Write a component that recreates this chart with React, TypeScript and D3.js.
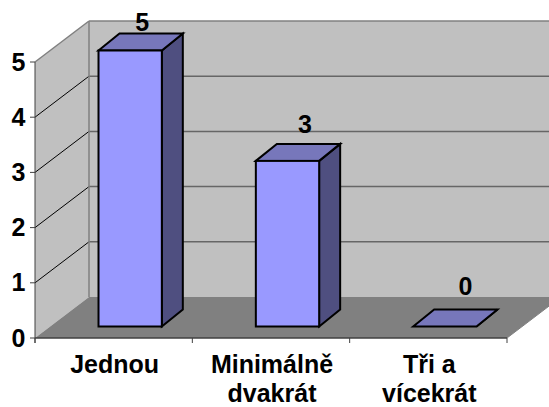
import React from "react";
import * as d3 from "d3";

const categories = [["Jednou"], ["Minimálně", "dvakrát"], ["Tři a", "vícekrát"]];
const values = [5, 3, 0];
const ticks = [0, 1, 2, 3, 4, 5];

const W = 549, H = 407;
const x0 = 35, x1 = 507, yBase = 338, yTop = 62;
const depthX = 54, depthY = -41;
const y = d3.scaleLinear().domain([0, 5]).range([yBase, yTop]);
const x = d3.scaleBand<number>().domain(d3.range(values.length)).range([x0, x1]).paddingInner(47 * 2 / 157.3).paddingOuter(47 / 157.3);
const FONT = "'Liberation Sans', Arial, sans-serif";
const pts = (a: number[][]) => a.map(p => p.join(",")).join(" ");

export default function App() {
  const barDx = 16.5, barDy = -11.5, bDx = 21, bDy = -17;
  const labelOffsets = [[12, -3], [17.5, -10.5], [20.5, -14.5]];
  return (
    <svg width={W} height={H} style={{ position: "absolute", left: 0, top: 0, background: "#fff" }} fontFamily={FONT} fontWeight="bold" fill="#000">
      <polygon points={pts([[x0, yBase], [x0 + depthX, yBase + depthY], [x0 + depthX, yTop + depthY], [x0, yTop]])} fill="#c0c0c0" />
      <rect x={x0 + depthX} y={yTop + depthY} width={W - x0 - depthX} height={yBase - yTop} fill="#c0c0c0" />
      <polygon points={pts([[x0, yBase], [x0 + depthX, yBase + depthY], [x1 + depthX, yBase + depthY], [x1, yBase]])} fill="#808080" />
      {ticks.slice(1, 5).map(t => (
        <g key={t}>
          <line x1={x0} y1={y(t)} x2={x0 + depthX} y2={y(t) + depthY} stroke="#000" strokeWidth={1} />
          <line x1={x0 + depthX} y1={y(t) + depthY} x2={W} y2={y(t) + depthY} stroke="#666" strokeWidth={1.5} />
        </g>
      ))}
      <line x1={x0 + depthX} y1={yTop + depthY} x2={W} y2={yTop + depthY} stroke="#808080" strokeWidth={1.5} />
      <line x1={x0} y1={yTop} x2={x0 + depthX} y2={yTop + depthY} stroke="#808080" strokeWidth={1.5} />
      <line x1={x0 + depthX} y1={yTop + depthY} x2={x0 + depthX} y2={yBase + depthY} stroke="#808080" strokeWidth={1.5} />
      <line x1={x1} y1={yBase} x2={x1 + depthX} y2={yBase + depthY} stroke="#808080" strokeWidth={1} />

      {values.map((v, i) => {
        const l = x(i)! + barDx, r = l + x.bandwidth(), b = y(0) + barDy, t = y(v) + barDy;
        return (
          <g key={i} stroke="#000" strokeWidth={2} strokeLinejoin="miter">
            <polygon points={pts([[r, b], [r + bDx, b + bDy], [r + bDx, t + bDy], [r, t]])} fill="#4f4f80" />
            <polygon points={pts([[l, t], [l + bDx, t + bDy], [r + bDx, t + bDy], [r, t]])} fill="#7777bb" />
            {v > 0 && <rect x={l} y={t} width={r - l} height={b - t} fill="#9999ff" />}
            <text x={(l + r) / 2 + labelOffsets[i][0]} y={t + bDy + labelOffsets[i][1]} textAnchor="middle" fontSize={25} stroke="none" fill="#000">{v}</text>
          </g>
        );
      })}

      <line x1={x0} y1={yTop} x2={x0} y2={yBase + 5} stroke="#404040" strokeWidth={1} />
      <line x1={x0} y1={yBase} x2={x1} y2={yBase} stroke="#404040" strokeWidth={1.5} />
      {ticks.map(t => (
        <g key={t}>
          <line x1={x0 - 5} y1={y(t)} x2={x0} y2={y(t)} stroke="#404040" />
          <text x={25.5} y={y(t) + 8.5} textAnchor="end" fontSize={25}>{t}</text>
        </g>
      ))}
      {d3.range(values.length + 1).map(i => {
        const px = x0 + (i * (x1 - x0)) / values.length;
        return <line key={i} x1={px} y1={yBase} x2={px} y2={yBase + 5} stroke="#404040" />;
      })}
      {categories.map((lines, i) => (
        <text key={i} x={x(i)! + x.bandwidth() / 2} textAnchor="middle" fontSize={25}>
          {lines.map((s, j) => <tspan key={j} x={x(i)! + x.bandwidth() / 2 + 1} y={373 + j * 28.5}>{s}</tspan>)}
        </text>
      ))}
    </svg>
  );
}
